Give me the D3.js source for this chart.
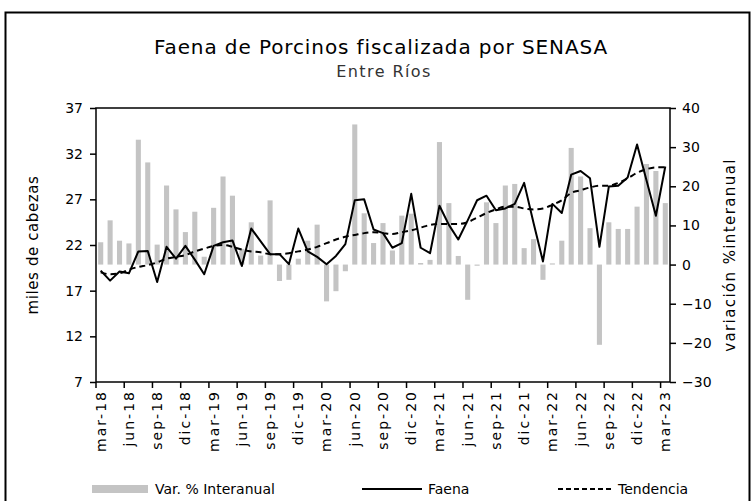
<!DOCTYPE html>
<html>
<head>
<meta charset="utf-8">
<script src="https://cdn.jsdelivr.net/npm/d3@7"></script>
<style>
  body { margin: 0; background: #fff; }
  svg text { font-family: "DejaVu Sans", sans-serif; fill: #000; }
</style>
</head>
<body>
<div id="chart"></div>
<script>
// months (categories)
const months = ("mar-18 abr-18 may-18 jun-18 jul-18 ago-18 sep-18 oct-18 nov-18 dic-18 " +
  "ene-19 feb-19 mar-19 abr-19 may-19 jun-19 jul-19 ago-19 sep-19 oct-19 nov-19 dic-19 " +
  "ene-20 feb-20 mar-20 abr-20 may-20 jun-20 jul-20 ago-20 sep-20 oct-20 nov-20 dic-20 " +
  "ene-21 feb-21 mar-21 abr-21 may-21 jun-21 jul-21 ago-21 sep-21 oct-21 nov-21 dic-21 " +
  "ene-22 feb-22 mar-22 abr-22 may-22 jun-22 jul-22 ago-22 sep-22 oct-22 nov-22 dic-22 " +
  "ene-23 feb-23 mar-23").split(" ");

// variación % interanual (right axis)
const varInteranual = [
  5.7, 11.3, 6.1, 5.4, 31.9, 26.1, 5.1, 20.2, 14.1, 8.3,
  13.5, 2.0, 14.5, 22.5, 17.6, 4.0, 10.8, 2.3, 16.4, -4.2,
  -3.9, 1.5, 6.1, 10.2, -9.4, -6.8, -1.7, 35.8, 13.1, 5.5,
  10.6, 3.6, 12.5, 13.0, 0.4, 1.2, 31.3, 15.7, 2.2, -9.0,
  -0.3, 15.9, 10.6, 20.2, 20.6, 4.2, 6.5, -3.9, 0.3, 6.1,
  29.8, 22.5, 9.3, -20.5, 10.8, 9.1, 9.1, 14.8, 25.7, 23.9, 15.7
];

// faena, miles de cabezas (left axis)
const faena = [
  19.2, 18.1, 19.1, 18.9, 21.3, 21.35, 17.95, 21.8, 20.5, 21.9,
  20.4, 18.8, 21.9, 22.3, 22.5, 19.7, 23.8, 22.4, 21.0, 21.0,
  19.9, 23.8, 21.3, 20.7, 19.9, 20.8, 22.1, 26.9, 27.0, 23.7,
  23.3, 21.7, 22.2, 27.6, 21.7, 21.1, 26.3, 24.2, 22.6, 24.7,
  26.9, 27.4, 25.8, 26.0, 26.5, 28.8, 24.4, 20.2, 26.5, 25.5,
  29.7, 30.1, 29.3, 21.8, 28.4, 28.5, 29.4, 33.0, 29.1, 25.2, 30.6
];

// tendencia (left axis)
const tendencia = [
  19.0, 18.8, 18.9, 19.3, 19.6, 19.8, 20.1, 20.5, 20.7, 20.9,
  21.3, 21.6, 21.9, 22.0, 21.8, 21.5, 21.3, 21.2, 21.0, 21.0,
  21.1, 21.3, 21.5, 21.8, 22.2, 22.6, 22.9, 23.1, 23.3, 23.4,
  23.3, 23.2, 23.4, 23.6, 23.9, 24.2, 24.3, 24.3, 24.3, 24.5,
  25.0, 25.5, 25.9, 26.2, 26.2, 26.0, 25.9, 26.0, 26.4, 26.9,
  27.7, 28.0, 28.3, 28.5, 28.5, 28.8, 29.3, 29.9, 30.3, 30.5, 30.5
];

const leftTicks = [7, 12, 17, 22, 27, 32, 37];
const rightTicks = [-30, -20, -10, 0, 10, 20, 30, 40];
const xTickLabels = months.filter((m, i) => i % 3 === 0);

const W = 754, H = 501;
const plot = { left: 96, right: 670, top: 108, bottom: 382 };

const svg = d3.select('#chart').append('svg')
  .attr('width', W)
  .attr('height', H);

// outer frame (bottom edge runs off the picture)
svg.append('rect')
  .attr('x', 5.5).attr('y', 12.5)
  .attr('width', 744).attr('height', 520)
  .attr('fill', 'none')
  .attr('stroke', '#000')
  .attr('stroke-width', 2);

// titles
svg.append('text')
  .attr('x', 381).attr('y', 54)
  .attr('text-anchor', 'middle')
  .style('font-size', '20px')
  .style('letter-spacing', '0.9px')
  .text('Faena de Porcinos fiscalizada por SENASA');

svg.append('text')
  .attr('x', 384).attr('y', 77)
  .attr('text-anchor', 'middle')
  .style('font-size', '16px')
  .style('letter-spacing', '1.4px')
  .style('fill', '#333')
  .text('Entre Ríos');

// scales
const x = d3.scaleBand()
  .domain(months)
  .range([plot.left, plot.right])
  .padding(0);
const bw = x.bandwidth();

const yL = d3.scaleLinear().domain([7, 37]).range([plot.bottom, plot.top]);
const yR = d3.scaleLinear().domain([-30, 40]).range([plot.bottom, plot.top]);

// bars
svg.append('g')
  .selectAll('rect')
  .data(varInteranual)
  .join('rect')
  .attr('x', (d, i) => x(months[i]) + bw * 0.23)
  .attr('width', bw * 0.54)
  .attr('y', d => yR(Math.max(0, d)))
  .attr('height', d => Math.abs(yR(d) - yR(0)))
  .attr('fill', '#c4c4c4');

// lines
const cx = (d, i) => x(months[i]) + bw / 2;

svg.append('path')
  .datum(tendencia)
  .attr('fill', 'none')
  .attr('stroke', '#000')
  .attr('stroke-width', 2)
  .attr('stroke-dasharray', '6,4')
  .attr('d', d3.line().x(cx).y(d => yL(d)).curve(d3.curveMonotoneX));

svg.append('path')
  .datum(faena)
  .attr('fill', 'none')
  .attr('stroke', '#000')
  .attr('stroke-width', 2)
  .attr('stroke-linejoin', 'round')
  .attr('d', d3.line().x(cx).y(d => yL(d)));

// plot box
svg.append('rect')
  .attr('x', plot.left).attr('y', plot.top)
  .attr('width', plot.right - plot.left)
  .attr('height', plot.bottom - plot.top)
  .attr('fill', 'none')
  .attr('stroke', '#000')
  .attr('stroke-width', 1.5);

// left axis
const gL = svg.append('g')
  .attr('transform', `translate(${plot.left},0)`)
  .call(d3.axisLeft(yL).tickValues(leftTicks).tickSize(6).tickPadding(7));

// right axis
const gR = svg.append('g')
  .attr('transform', `translate(${plot.right},0)`)
  .call(d3.axisRight(yR).tickValues(rightTicks).tickSize(6).tickPadding(6));

// bottom axis: ticks on band edges, labels under band centres
const gX = svg.append('g')
  .attr('transform', `translate(0,${plot.bottom})`)
  .call(d3.axisBottom(x).tickValues(xTickLabels).tickSize(6));

gX.selectAll('.tick line')
  .attr('x1', -bw / 2)
  .attr('x2', -bw / 2);

gX.selectAll('.tick text')
  .attr('transform', 'rotate(-90)')
  .attr('text-anchor', 'end')
  .attr('x', -8)
  .attr('y', 0)
  .attr('dy', '0.35em')
  .style('letter-spacing', '2px');

[gL, gR, gX].forEach(g => {
  g.selectAll('path.domain').remove();
  g.selectAll('.tick line').attr('stroke', '#000').attr('stroke-width', 1.5);
  g.selectAll('.tick text')
    .style('font-family', '"DejaVu Sans", sans-serif')
    .style('font-size', '14px')
    .attr('fill', '#000');
});

// axis titles
svg.append('text')
  .attr('transform', 'translate(38,245) rotate(-90)')
  .attr('text-anchor', 'middle')
  .style('font-size', '15px')
  .style('letter-spacing', '0.6px')
  .text('miles de cabezas');

svg.append('text')
  .attr('transform', 'translate(735,255) rotate(-90)')
  .attr('text-anchor', 'middle')
  .style('font-size', '15px')
  .style('letter-spacing', '1.4px')
  .text('variación %interanual');

// legend
const leg = svg.append('g');
leg.append('rect')
  .attr('x', 92).attr('y', 485)
  .attr('width', 56).attr('height', 8)
  .attr('fill', '#c4c4c4');
leg.append('text')
  .attr('x', 155).attr('y', 494)
  .style('font-size', '14px')
  .text('Var. % Interanual');

leg.append('line')
  .attr('x1', 362).attr('x2', 422)
  .attr('y1', 489).attr('y2', 489)
  .attr('stroke', '#000').attr('stroke-width', 2);
leg.append('text')
  .attr('x', 428).attr('y', 494)
  .style('font-size', '14px')
  .text('Faena');

leg.append('line')
  .attr('x1', 558).attr('x2', 612)
  .attr('y1', 489).attr('y2', 489)
  .attr('stroke', '#000').attr('stroke-width', 2)
  .attr('stroke-dasharray', '5,3');
leg.append('text')
  .attr('x', 618).attr('y', 494)
  .style('font-size', '14px')
  .text('Tendencia');
</script>
</body>
</html>
